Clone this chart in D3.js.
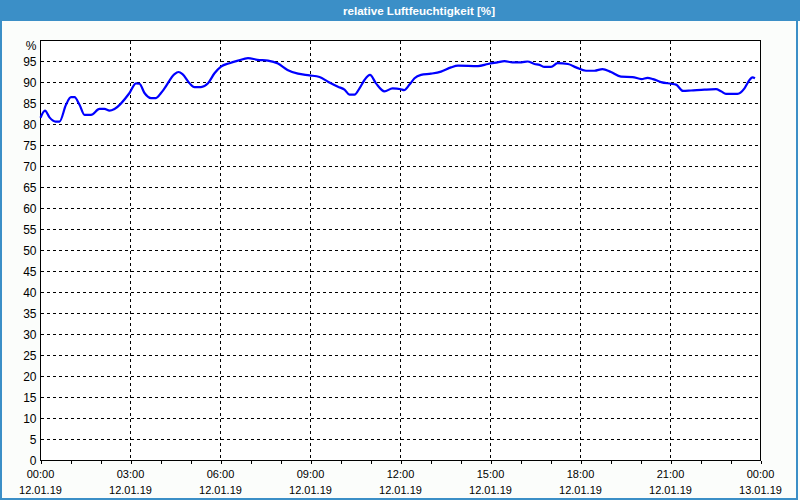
<!DOCTYPE html>
<html>
<head>
<meta charset="utf-8">
<script src="https://cdn.jsdelivr.net/npm/d3@7"></script>
<style>
  body { margin: 0; background: #fff; }
  svg { display: block; font-family: "Liberation Sans", Arial, sans-serif; }
</style>
</head>
<body>
<svg id="chart" width="800" height="500"></svg>
<script>
// readings of 12.01.19, time of day and relative humidity in %
const times = [
    "00:00", "00:09", "00:18", "00:30", "00:38", "00:51", "01:01", "01:08", "01:18", "01:28",
    "01:41", "01:58", "02:08", "02:18", "02:28", "02:58", "03:11", "03:18", "03:28", "03:41",
    "03:51", "04:01", "04:08", "04:28", "04:36", "04:44", "04:58", "05:08", "05:21", "05:35",
    "05:48", "06:01", "06:18", "06:35", "06:55", "07:14", "07:35", "07:55", "08:14", "08:35",
    "08:58", "09:18", "09:35", "09:55", "10:08", "10:18", "10:28", "10:38", "10:48", "10:59",
    "11:11", "11:28", "11:44", "12:01", "12:07", "12:18", "12:28", "12:41", "13:01", "13:21",
    "13:41", "13:55", "14:35", "14:55", "15:14", "15:28", "15:44", "16:02", "16:14", "16:28",
    "16:38", "16:48", "17:01", "17:14", "17:35", "17:51", "18:11", "18:28", "18:44", "19:01",
    "19:21", "19:44", "20:02", "20:14", "20:25", "20:41", "21:01", "21:11", "21:25", "21:41",
    "22:08", "22:31", "22:41", "22:51", "23:14", "23:28", "23:38", "23:44", "23:49"
];
const humidity = [
    81.6, 83.3, 81.7, 80.7, 80.7, 84.7, 86.5, 86.5, 84.7, 82.3,
    82.3, 83.7, 83.7, 83.3, 83.7, 87.5, 89.8, 89.7, 87.5, 86.3,
    86.3, 87.5, 88.6, 92.0, 92.5, 92.0, 89.8, 88.9, 88.9, 89.8,
    92.2, 93.8, 94.6, 95.2, 95.8, 95.4, 95.2, 94.5, 93.0, 92.1,
    91.7, 91.3, 90.2, 89.0, 88.3, 87.1, 87.1, 88.6, 90.6, 91.8,
    89.8, 87.9, 88.6, 88.4, 88.2, 89.5, 91.0, 91.8, 92.1, 92.6,
    93.6, 94.0, 93.9, 94.4, 94.8, 95.1, 94.8, 94.8, 95.0, 94.4,
    94.2, 93.7, 93.7, 94.6, 94.4, 93.6, 92.8, 92.8, 93.2, 92.5,
    91.4, 91.3, 90.8, 91.1, 90.8, 90.1, 89.7, 89.5, 88.0, 88.1,
    88.3, 88.4, 87.9, 87.3, 87.3, 88.6, 90.6, 91.2, 91.0
];
const yTicks = [0, 5, 10, 15, 20, 25, 30, 35, 40, 45, 50, 55, 60, 65, 70, 75, 80, 85, 90, 95];
const xTickTimes = ["12.01.19 00:00", "12.01.19 03:00", "12.01.19 06:00", "12.01.19 09:00",
    "12.01.19 12:00", "12.01.19 15:00", "12.01.19 18:00", "12.01.19 21:00", "13.01.19 00:00"];
const title = "relative Luftfeuchtigkeit [%]";
const day = "12.01.19";

const parse = d3.timeParse("%d.%m.%y %H:%M");
const data = times.map((t, i) => ({ t: parse(day + " " + t), v: humidity[i] }));
const xTicks = xTickTimes.map(parse);

const svg = d3.select("#chart");
const plot = { left: 40.5, right: 760.5, top: 40.5, bottom: 460.5 };

svg.append("rect").attr("width", 800).attr("height", 500).attr("fill", "#fbfdfb");

// window title bar
svg.append("rect").attr("x", 0).attr("y", 0).attr("width", 800).attr("height", 21).attr("fill", "#3b8fc7");
svg.append("text")
    .attr("x", 419).attr("y", 14.5)
    .attr("text-anchor", "middle")
    .attr("font-size", "11.6px")
    .attr("font-weight", "bold")
    .attr("fill", "#fff")
    .text(title);
svg.append("rect").attr("x", 0).attr("y", 0).attr("width", 2).attr("height", 500).attr("fill", "#3b8fc7");
svg.append("rect").attr("x", 796).attr("y", 0).attr("width", 2).attr("height", 500).attr("fill", "#3b8fc7");
svg.append("rect").attr("x", 0).attr("y", 498).attr("width", 798).attr("height", 2).attr("fill", "#3b8fc7");

const x = d3.scaleTime().domain([xTicks[0], xTicks[xTicks.length - 1]]).range([plot.left, plot.right]);
const y = d3.scaleLinear().domain([0, 100]).range([plot.bottom, plot.top]);

svg.append("rect")
    .attr("x", plot.left).attr("y", plot.top)
    .attr("width", plot.right - plot.left).attr("height", plot.bottom - plot.top)
    .attr("fill", "#fff");

// dashed grid
const grid = svg.append("g").attr("stroke", "#000").attr("stroke-dasharray", "3,3").attr("shape-rendering", "crispEdges");
grid.selectAll("line.h")
    .data(yTicks.filter(d => d > 0))
    .join("line")
    .attr("class", "h")
    .attr("x1", plot.left).attr("x2", plot.right)
    .attr("y1", d => y(d)).attr("y2", d => y(d));
grid.selectAll("line.v")
    .data(xTicks.slice(1, -1))
    .join("line")
    .attr("class", "v")
    .attr("x1", d => x(d)).attr("x2", d => x(d))
    .attr("y1", plot.top).attr("y2", plot.bottom);

// frame
svg.append("rect")
    .attr("x", plot.left).attr("y", plot.top)
    .attr("width", plot.right - plot.left).attr("height", plot.bottom - plot.top)
    .attr("fill", "none").attr("stroke", "#000")
    .attr("shape-rendering", "crispEdges");

// y axis labels
const yAxis = svg.append("g")
    .attr("transform", `translate(${plot.left},0)`)
    .call(d3.axisLeft(y).tickValues(yTicks).tickSize(0).tickPadding(4));
yAxis.select(".domain").remove();
yAxis.selectAll("text").attr("font-size", "12px").attr("font-family", "Liberation Sans, Arial, sans-serif").attr("fill", "#000");
svg.append("text")
    .attr("x", plot.left - 4).attr("y", 50)
    .attr("text-anchor", "end")
    .attr("font-size", "12px")
    .text("%");

// x axis: hourly ticks, labels every 3 hours
const xAxis = svg.append("g")
    .attr("transform", `translate(0,${plot.bottom})`)
    .call(d3.axisBottom(x).ticks(d3.timeHour.every(1)).tickSize(3).tickFormat(""));
xAxis.select(".domain").remove();
xAxis.selectAll("line").attr("stroke", "#000").attr("shape-rendering", "crispEdges");

const fmtTime = d3.timeFormat("%H:%M");
const fmtDate = d3.timeFormat("%d.%m.%y");
const xl = svg.append("g").attr("font-size", "11px").attr("text-anchor", "middle");
xl.selectAll("text.t")
    .data(xTicks)
    .join("text")
    .attr("class", "t")
    .attr("x", d => x(d)).attr("y", 478)
    .text(d => fmtTime(d));
xl.selectAll("text.d")
    .data(xTicks)
    .join("text")
    .attr("class", "d")
    .attr("x", d => x(d)).attr("y", 494)
    .text(d => fmtDate(d));

// humidity line
const line = d3.line()
    .x(d => x(d.t))
    .y(d => y(d.v))
    .curve(d3.curveMonotoneX);
svg.append("path")
    .datum(data)
    .attr("fill", "none")
    .attr("stroke", "#0000ff")
    .attr("stroke-width", 2.2)
    .attr("stroke-linejoin", "round")
    .attr("d", line);
</script>
</body>
</html>
